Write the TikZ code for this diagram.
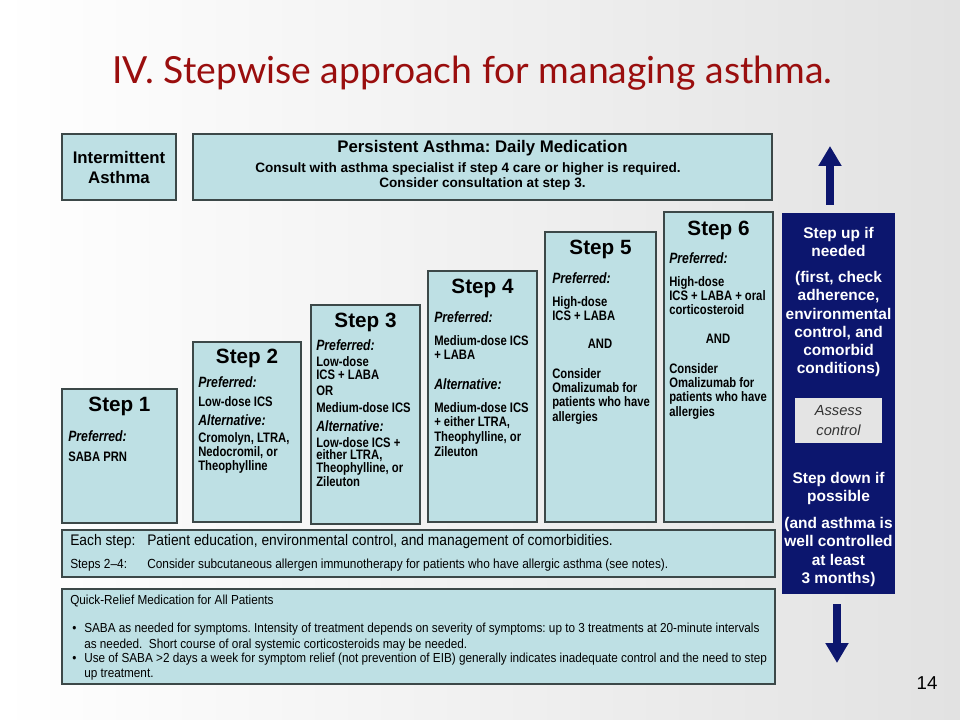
\documentclass[tikz,border=0pt]{standalone}
\usepackage{fontspec}
\setmainfont{Liberation Sans}
\newfontfamily\narrowsf[FakeStretch=0.82]{Liberation Sans}
\newfontfamily\notesf[FakeStretch=0.9]{Liberation Sans}
\newfontfamily\titlesf{Lato}
\usetikzlibrary{arrows.meta}

\definecolor{boxfill}{RGB}{190,224,228}
\definecolor{boxline}{RGB}{60,72,72}
\definecolor{navy}{RGB}{12,22,110}
\definecolor{titlered}{RGB}{154,14,14}
\definecolor{assessgray}{RGB}{228,228,228}
\definecolor{slidebg}{RGB}{226,226,226}

\begin{document}
\frenchspacing
\begin{tikzpicture}[
    x=0.75pt, y=-0.75pt,
    every node/.style={inner sep=0pt},
    box/.style={draw=boxline, fill=boxfill, line width=1.5pt},
    heading/.style={font=\bfseries\fontsize{15.5}{18}\selectfont},
    pref/.style={anchor=west, font=\narrowsf\bfseries\itshape\fontsize{11.2}{13}\selectfont},
    drug/.style={anchor=north west, align=left, font=\narrowsf\bfseries\fontsize{10.3}{#1}\selectfont},
    drug/.default=10.5,
    banner/.style={font=\bfseries\fontsize{12.6}{14.3}\selectfont, align=center},
    navytext/.style={anchor=north, align=center, text=white, font=\bfseries\fontsize{11.6}{13.7}\selectfont},
    note/.style={anchor=west, font=\notesf\fontsize{#1}{#1}\selectfont},
    note/.default=11.5,
    updown/.style={-{Triangle[width=16.5pt, length=15pt]}, line width=6pt, navy}
]

% === BACKGROUND ===
\useasboundingbox (0,0) rectangle (960,720);
\shade[left color=white, right color=slidebg] (0,0) rectangle (960,720);

% === TITLE ===
\node[text=titlered, font=\titlesf\fontsize{28}{32}\selectfont] (title) at (472.5,73) {IV. Stepwise approach for managing asthma.};

% === TOP BANNERS ===
\draw[box] (62,134) rectangle (176,200);
\node[banner] (intermittent) at (119,167.5) {Intermittent\\Asthma};

\draw[box] (193,134) rectangle (772,200);
\node[banner] (persistent) at (482.5,148) {Persistent Asthma: Daily Medication};
\node[font=\bfseries\fontsize{10.2}{11}\selectfont] (consult) at (468,169) {Consult with asthma specialist if step 4 care or higher is required.};
\node[font=\bfseries\fontsize{10.2}{11}\selectfont] (consider) at (482.5,184) {Consider consultation at step 3.};

% === STEPS ===

% Step 1
\draw[box] (62,389) rectangle (177,523);
\node[heading] (s1head) at (119.5,406) {Step 1};
\node[pref] (s1pref) at (68,436) {Preferred:};
\node[drug] (s1drug) at (68,452) {SABA PRN};

% Step 2
\draw[box] (193,342) rectangle (301,522);
\node[heading] (s2head) at (247,358) {Step 2};
\node[pref] (s2pref) at (198,382) {Preferred:};
\node[drug] (s2drug) at (198,396) {Low-dose ICS};
\node[pref] (s2alt) at (198,420) {Alternative:};
\node[drug] (s2altdrug) at (198,432) {Cromolyn, LTRA,\\Nedocromil, or\\Theophylline};

% Step 3
\draw[box] (311,305) rectangle (420,524);
\node[heading] (s3head) at (365.5,322) {Step 3};
\node[pref] (s3pref) at (316,345) {Preferred:};
\node[drug=9.6] (s3drug) at (316,356) {Low-dose\\ICS + LABA};
\node[drug] (s3or) at (316,386) {OR};
\node[drug] (s3med) at (316,402) {Medium-dose ICS};
\node[pref] (s3alt) at (316,426) {Alternative:};
\node[drug=9.4] (s3altdrug) at (316,437) {Low-dose ICS +\\either LTRA,\\Theophylline, or\\Zileuton};

% Step 4
\draw[box] (428,271) rectangle (537,522);
\node[heading] (s4head) at (482.5,288) {Step 4};
\node[pref] (s4pref) at (434,317) {Preferred:};
\node[drug] (s4drug) at (434,335) {Medium-dose ICS\\+ LABA};
\node[pref] (s4alt) at (434,384) {Alternative:};
\node[drug=11] (s4altdrug) at (434,402) {Medium-dose ICS\\+ either LTRA,\\Theophylline, or\\Zileuton};

% Step 5
\draw[box] (545,232) rectangle (656,522);
\node[heading] (s5head) at (600.5,249) {Step 5};
\node[pref] (s5pref) at (552,278) {Preferred:};
\node[drug] (s5drug) at (552,296) {High-dose\\ICS + LABA};
\node[drug, anchor=center] (s5and) at (600,344) {AND};
\node[drug=10.7] (s5omal) at (552,368) {Consider\\Omalizumab for\\patients who have\\allergies};

% Step 6
\draw[box] (664,212) rectangle (773,522);
\node[heading] (s6head) at (718.5,230) {Step 6};
\node[pref] (s6pref) at (669,258) {Preferred:};
\node[drug] (s6drug) at (669,276) {High-dose\\ICS + LABA + oral\\corticosteroid};
\node[drug, anchor=center] (s6and) at (718,339) {AND};
\node[drug=10.7] (s6omal) at (669,363) {Consider\\Omalizumab for\\patients who have\\allergies};

% === BOTTOM NOTES ===
\draw[box] (62,530) rectangle (775,577);
\node[note] (eachlbl) at (70,542) {Each step:};
\node[note] (eachtxt) at (147,542) {Patient education, environmental control, and management of comorbidities.};
\node[note=9.9] (stepslbl) at (70,565) {Steps 2–4:};
\node[note=9.9] (stepstxt) at (147,565) {Consider subcutaneous allergen immunotherapy for patients who have allergic asthma (see notes).};

\draw[box] (62,589) rectangle (775,684);
\node[note=9.8] (quick) at (70,601) {Quick-Relief Medication for All Patients};
\node[note=9.8] (bul1) at (72,629) {•};
\node[anchor=north west, align=left, font=\notesf\fontsize{9.8}{11.6}\selectfont] (quick1) at (84,623) {SABA as needed for symptoms. Intensity of treatment depends on severity of symptoms: up to 3 treatments at 20-minute intervals\\as needed.\ \ Short course of oral systemic corticosteroids may be needed.};
\node[note=9.8] (bul2) at (72,659) {•};
\node[anchor=north west, align=left, font=\notesf\fontsize{9.8}{11.2}\selectfont] (quick2) at (84,653) {Use of SABA >2 days a week for symptom relief (not prevention of EIB) generally indicates inadequate control and the need to step\\up treatment.};

% === STEP UP / STEP DOWN ===
\fill[navy] (782,213) rectangle (895,594);
\node[navytext] (stepup) at (838.5,227) {Step up if\\needed};
\node[navytext] (stepupwhy) at (838.5,271) {(first, check\\adherence,\\environmental\\control, and\\comorbid\\conditions)};
\fill[assessgray] (795,398) rectangle (882,443);
\node[align=center, text=black!80, font=\itshape\fontsize{11}{15}\selectfont] (assess) at (838.5,420.5) {Assess\\control};
\node[navytext] (stepdown) at (838.5,472) {Step down if\\possible};
\node[navytext] (stepdownwhy) at (838.5,517) {(and asthma is\\well controlled\\at least\\3 months)};

\coordinate (uptail) at (830,205);
\coordinate (uptip) at (830,146);
\coordinate (downtail) at (837,604);
\coordinate (downtip) at (837,663);
\draw[updown] (uptail) -- (uptip);
\draw[updown] (downtail) -- (downtip);

% === PAGE NUMBER ===
\node[font=\fontsize{14}{16}\selectfont] (pagenum) at (927,683) {14};

\end{tikzpicture}
\end{document}
